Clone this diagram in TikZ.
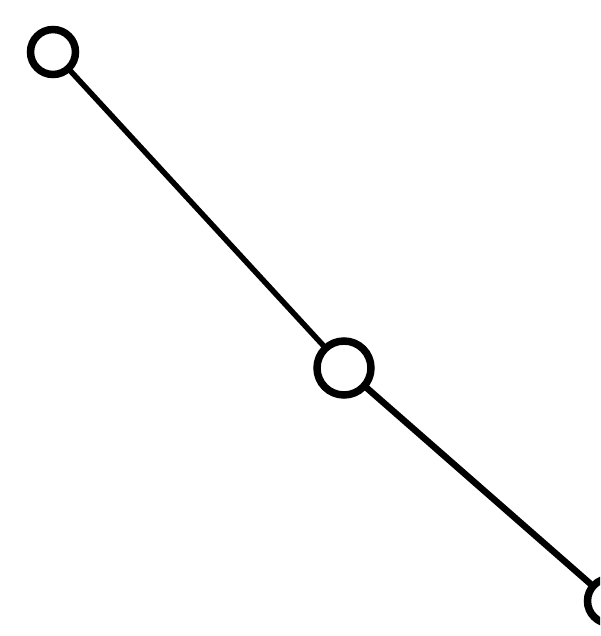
\documentclass[tikz,border=0pt]{standalone}
\begin{document}
\begin{tikzpicture}[x=0.02cm,y=-0.02cm,
  vert/.style={circle,draw=black,line width=0.15cm,minimum size=0.9cm,inner sep=0pt},
  edge/.style={draw=black,line width=0.11cm,line cap=round}]
\useasboundingbox (0,0) rectangle (600,636);
\fill[white] (0,0) rectangle (600,636);
\begin{scope}
\clip (0,0) rectangle (600,636);
\node[vert] (a) at (53,52) {};
\node[vert,minimum size=1.08cm] (b) at (344,368) {};
\node[vert] (c) at (610,601) {};
\draw[edge] (a) -- (b);
\draw[edge,line width=0.13cm] (b) -- (c);
\end{scope}
\end{tikzpicture}
\end{document}
